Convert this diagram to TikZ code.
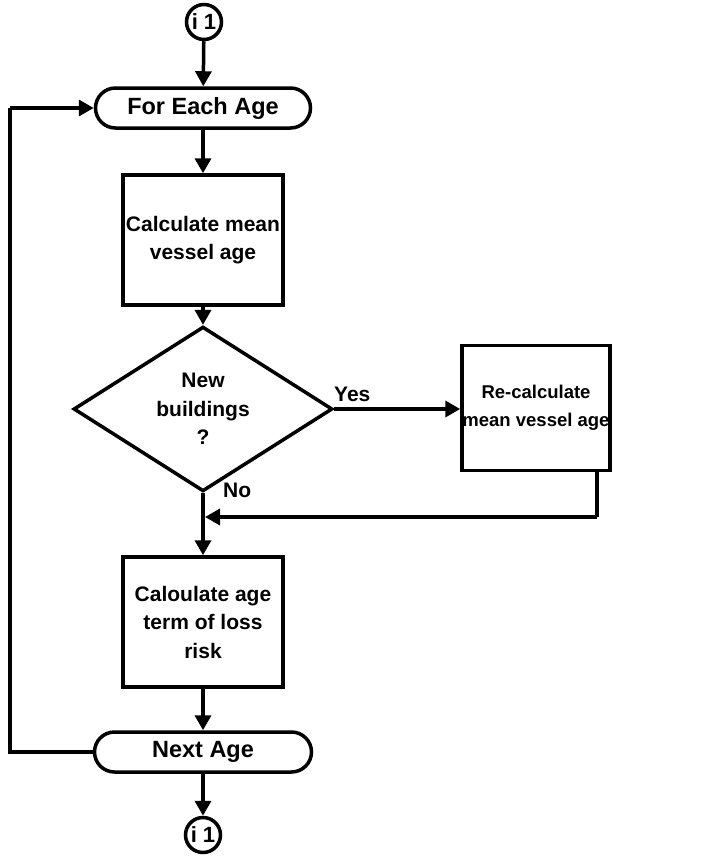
\documentclass[tikz,border=0pt]{standalone}
\usepackage{fontspec}
\setmainfont{Liberation Sans}
\usetikzlibrary{shapes.geometric,arrows.meta}
\begin{document}
\begin{tikzpicture}[x=1pt,y=-1pt,
  every node/.style={font=\fontsize{21}{28.5}\selectfont\bfseries, align=center, inner sep=0pt},
  line/.style={line width=3.5pt},
  flow/.style={line, -{Triangle[length=15pt,width=16pt]}},
  procbox/.style={draw, line width=3.5pt},
  terminal/.style={draw, line width=3.5pt, rounded corners=20pt, minimum height=40pt,
                   font=\fontsize{23.5}{28.5}\selectfont\bfseries},
  connector/.style={draw, circle, line width=3.5pt, minimum size=35pt,
                    font=\fontsize{22}{26}\selectfont\bfseries},
  decision/.style={draw, diamond, line width=3.5pt, minimum width=259pt, minimum height=125pt},
  tag/.style={anchor=base west}]
\useasboundingbox (0,0) rectangle (727,862);

\node[connector] (c1) at (204,22) {i 1};
\node[terminal, minimum width=215pt] (fe) at (203,108) {For Each Age};
\node[procbox, minimum width=160pt, minimum height=130pt] (b1) at (203,240) {Calculate mean\\vessel age};
\node[decision] (d) at (203,409) {New\\buildings\\?};
\node[procbox, minimum width=148pt, minimum height=125pt, font=\fontsize{18.5}{28.5}\selectfont\bfseries] (b2) at (536,408) {Re-calculate\\mean vessel age};
\node[procbox, minimum width=160pt, minimum height=130pt] (b3) at (203,622) {Caloulate age\\term of loss\\risk};
\node[terminal, minimum width=217pt] (ne) at (203,752) {Next Age};
\node[connector] (c2) at (203,835) {i 1};

\node[tag] (yes) at (334,401) {Yes};
\node[tag] (no) at (223,497) {No};

\coordinate (turn) at (597,517);
\coordinate (join) at (205,517);
\coordinate (loopbot) at (10,752);
\coordinate (looptop) at (10,108);

\draw[flow] (c1) -- (fe);
\draw[flow] (fe) -- (b1);
\draw[flow] (b1) -- (d);
\draw[flow] (d.east) -- (d.east -| b2.west);
\draw[line] (b2.south -| turn) -- (turn);
\draw[flow] (turn) -- (join);
\draw[flow] (d.south) -- (b3.north);
\draw[flow] (b3) -- (ne);
\draw[flow] (ne) -- (c2);
\draw[line] (ne.west) -- (loopbot) -- (looptop);
\draw[flow] (looptop) -- (fe.west);
\end{tikzpicture}
\end{document}
